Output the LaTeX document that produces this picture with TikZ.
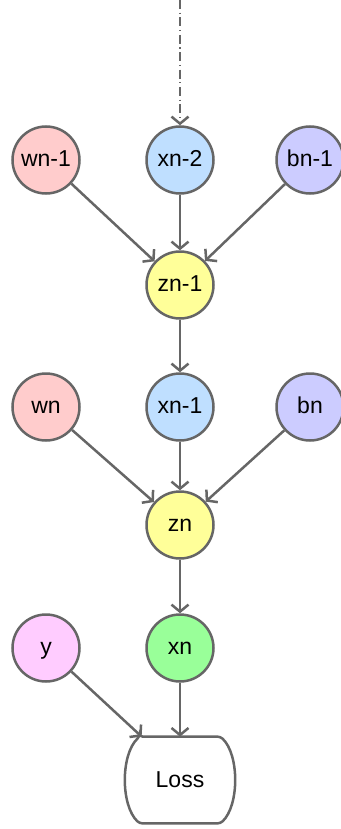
\documentclass[tikz,border=0pt]{standalone}
\usepackage{fontspec}
\setmainfont{Liberation Sans}
\usepackage{xcolor}
\usepackage{tikz}
\usetikzlibrary{arrows.meta,positioning}
\definecolor{nnpink}{HTML}{FFCCCC}
\definecolor{nnblue}{HTML}{BFDFFF}
\definecolor{nnlilac}{HTML}{CCCCFF}
\definecolor{nnyellow}{HTML}{FFFF99}
\definecolor{nngreen}{HTML}{99FF99}
\definecolor{nnmagenta}{HTML}{FFCCFF}
\definecolor{nngray}{HTML}{666666}
\tikzset{
  flowarrow/.style={-{Straight Barb[length=3.5pt,width=8.5pt]}, line width=1.25pt, draw=nngray},
  prevarrow/.style={flowarrow, dash pattern=on 4.5pt off 1.8pt on 0.6pt off 1.8pt},
  var/.style={circle, draw=nngray, line width=1.25pt, minimum size=33.5pt, inner sep=0pt,
    text height=1.6ex, text depth=0.3ex, font=\fontsize{11.5}{13}\selectfont},
  weight/.style={var, fill=nnpink},
  act/.style={var, fill=nnblue},
  bias/.style={var, fill=nnlilac},
  preact/.style={var, fill=nnyellow},
  output/.style={var, fill=nngreen},
  target/.style={var, fill=nnmagenta},
  lossbox/.style={rectangle, inner sep=0pt, minimum width=40pt, minimum height=43pt,
    font=\fontsize{11.5}{13}\selectfont}
}
\begin{document}
\begin{tikzpicture}[x=0.5pt, y=-0.5pt, on grid]
        \useasboundingbox (0,0) rectangle (341,829);
        \node[act] (xn2) at (180,160) {xn-2};
        \node[weight, left=67pt of xn2] (wn1) {wn-1};
        \node[bias, right=65pt of xn2] (bn1) {bn-1};
        \coordinate[above=80pt of xn2] (prev);
        \node[preact, below=62.5pt of xn2] (zn1) {zn-1};

        \node[act, below=61pt of zn1] (xn1) {xn-1};
        \node[weight, left=67pt of xn1] (wn) {wn};
        \node[bias, right=65pt of xn1] (bn) {bn};
        \node[preact, below=59pt of xn1] (zn) {zn};

        \node[output, below=61.5pt of zn] (xn) {xn};
        \node[target, left=67pt of xn] (y) {y};
        \node[lossbox, below=66pt of xn] (loss) {Loss};
        \draw[nngray, line width=1.25pt, rounded corners=1.5pt]
          (loss.north west) -- (loss.north east)
          .. controls +(9.5pt,-9pt) and +(9.5pt,9pt) .. (loss.south east)
          -- (loss.south west)
          .. controls +(-9.5pt,9pt) and +(-9.5pt,-9pt) .. (loss.north west) -- cycle;

        \draw[prevarrow] (prev) -- (xn2);
        \draw[flowarrow] (wn1) -- (zn1);
        \draw[flowarrow] (xn2) -- (zn1);
        \draw[flowarrow] (bn1) -- (zn1);
        \draw[flowarrow] (zn1) -- (xn1);
        \draw[flowarrow] (wn) -- (zn);
        \draw[flowarrow] (xn1) -- (zn);
        \draw[flowarrow] (bn) -- (zn);
        \draw[flowarrow] (zn) -- (xn);
        \draw[flowarrow] (y) -- ([xshift=1pt]loss.north west);
        \draw[flowarrow] (xn) -- (loss);
    \end{tikzpicture}
\end{document}
